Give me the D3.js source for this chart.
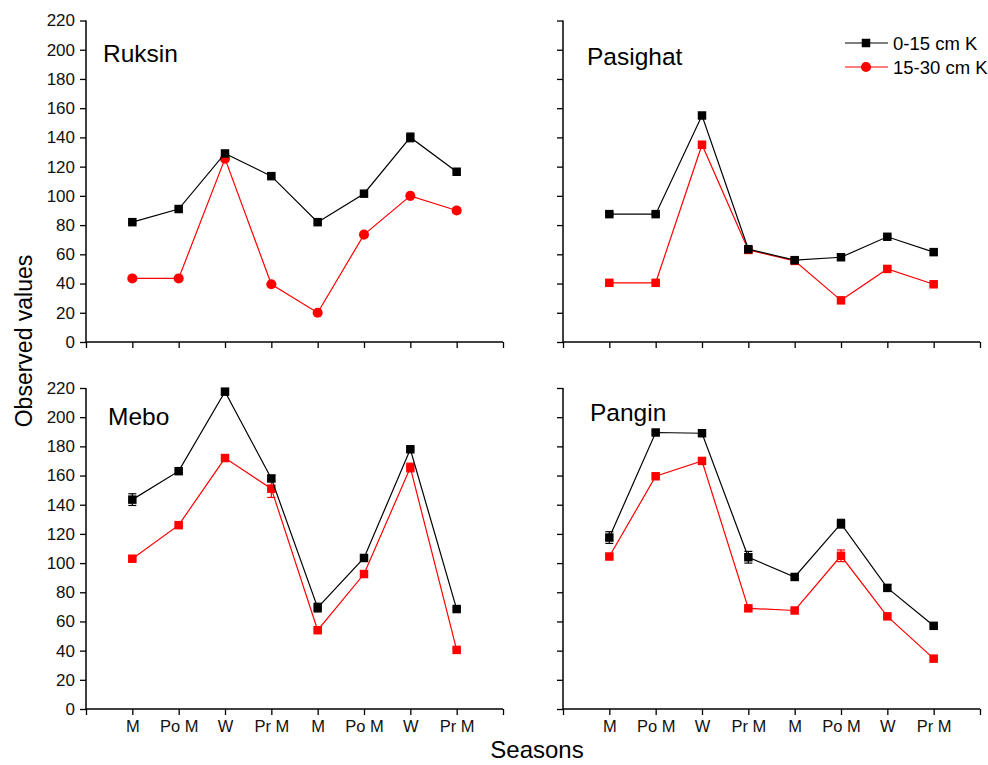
<!DOCTYPE html>
<html>
<head>
<meta charset="utf-8">
<script src="https://cdn.jsdelivr.net/npm/d3@7"></script>
<style>
  body { margin: 0; background: #fff; }
  svg { font-family: "Liberation Sans", Arial, sans-serif; }
</style>
</head>
<body>
<svg id="chart"></svg>
<script>
// seasons along x, sites as panels
const seasons = ["M", "Po M", "W", "Pr M", "M", "Po M", "W", "Pr M"]
const yTicks = [0, 20, 40, 60, 80, 100, 120, 140, 160, 180, 200, 220]
const sites = ["Ruksin", "Pasighat", "Mebo", "Pangin"]
const seriesNames = ["0-15 cm K", "15-30 cm K"]

const ruksin015 = [82, 91, 129, 113.5, 82, 101.5, 140, 116.5]
const ruksin1530 = [43.5, 43.5, 125.5, 39.5, 20, 73.5, 100, 90]
const ruksin015Err = [1, 1, 2, 1, 1, 1, 3, 1]
const ruksin1530Err = [1, 1, 2, 1, 1, 1, 1, 2]

const pasighat015 = [87.5, 87.5, 155, 63.5, 56, 58, 72, 61.5]
const pasighat1530 = [40.5, 40.5, 135, 63, 55.5, 28.5, 50, 39.5]
const pasighat015Err = [1, 1, 1, 1, 1, 1, 1, 1]
const pasighat1530Err = [1, 1, 1, 1, 1, 1, 1, 1]

const mebo015 = [143.5, 163, 217.5, 158, 69.5, 103.5, 178, 68.5]
const mebo1530 = [103, 126, 172, 151, 54, 92.5, 165.5, 40.5]
const mebo015Err = [4, 1, 1, 2, 3, 1, 1, 1]
const mebo1530Err = [1, 1, 1, 6, 1, 1, 3, 1]

const pangin015 = [117.5, 189.5, 189, 104, 90.5, 127, 83, 57]
const pangin1530 = [104.5, 159.5, 170, 69, 67.5, 105, 63.5, 34.5]
const pangin015Err = [4, 1, 1, 4, 1, 3, 2, 1]
const pangin1530Err = [1, 1, 1, 1, 1, 4, 1, 1]

const panelData = [
    {name: sites[0], a: ruksin015, b: ruksin1530, ea: ruksin015Err, eb: ruksin1530Err, redShape: 'circle'},
    {name: sites[1], a: pasighat015, b: pasighat1530, ea: pasighat015Err, eb: pasighat1530Err, redShape: 'square'},
    {name: sites[2], a: mebo015, b: mebo1530, ea: mebo015Err, eb: mebo1530Err, redShape: 'square'},
    {name: sites[3], a: pangin015, b: pangin1530, ea: pangin015Err, eb: pangin1530Err, redShape: 'square'},
]

const width = 988, height = 765
const svg = d3.select('#chart').attr('width', width).attr('height', height)

// panel boxes in pixels, plus where the site name sits
const panels = [
    {left: 86, right: 503, top: 20.5, bottom: 342, tx: 103, ty: 62},
    {left: 563, right: 980, top: 20.5, bottom: 342, tx: 587, ty: 65},
    {left: 86, right: 503, top: 388, bottom: 709, tx: 108, ty: 425},
    {left: 563, right: 980, top: 388, bottom: 709, tx: 590, ty: 421},
]

const symSquare = d3.symbol().type(d3.symbolSquare).size(72)
const symCircle = d3.symbol().type(d3.symbolCircle).size(80)

panels.forEach((p, i) => {
    let d = panelData[i]
    let x = d3.scaleLinear().domain([0, 9]).range([p.left, p.right])
    let y = d3.scaleLinear().domain([0, 220]).range([p.bottom, p.top])
    let g = svg.append('g')

    // y axis
    let yAxis = d3.axisLeft(y).tickValues(yTicks).tickSize(6).tickPadding(5)
    if (i % 2 == 1) yAxis.tickFormat('')
    let ya = g.append('g').attr('transform', `translate(${p.left},0)`).call(yAxis)
    ya.select('.domain').attr('d', `M0,${p.bottom}V${p.top}`)
    ya.selectAll('.tick text').attr('font-size', 17)

    // x axis
    let xAxis = d3.axisBottom(x).tickValues(d3.range(0, 10)).tickSize(6).tickPadding(5)
        .tickFormat(v => (i >= 2 && v >= 1 && v <= 8) ? seasons[v - 1] : '')
    let xa = g.append('g').attr('transform', `translate(0,${p.bottom})`).call(xAxis)
    xa.select('.domain').attr('d', `M${p.left},0H${p.right}`)
    xa.selectAll('.tick text').attr('font-size', 16.5)

    g.selectAll('.domain').attr('stroke', '#000').attr('stroke-width', 1.5)
    g.selectAll('.tick line').attr('stroke', '#000').attr('stroke-width', 1.3)
    g.selectAll('.tick text').attr('fill', '#111')
        .attr('font-family', '"Liberation Sans", Arial, sans-serif')

    // panel title
    g.append('text')
        .attr('x', p.tx)
        .attr('y', p.ty)
        .attr('font-size', 24.5)
        .attr('fill', '#000')
        .text(d.name)

    let series = [
        {vals: d.a, errs: d.ea, color: '#000', shape: 'square'},
        {vals: d.b, errs: d.eb, color: '#ff0000', shape: d.redShape},
    ]

    // draw red first so black sits on top
    series.slice().reverse().forEach(s => {
        let pts = s.vals.map((v, k) => ({x: k + 1, v: v, e: s.errs[k]}))
        g.append('path')
            .datum(pts)
            .attr('fill', 'none')
            .attr('stroke', s.color)
            .attr('stroke-width', 1.2)
            .attr('d', d3.line().x(q => x(q.x)).y(q => y(q.v)))

        let eb = g.append('g').selectAll('g').data(pts).join('g')
        eb.append('line')
            .attr('x1', q => x(q.x)).attr('x2', q => x(q.x))
            .attr('y1', q => y(q.v - q.e)).attr('y2', q => y(q.v + q.e))
            .attr('stroke', s.color).attr('stroke-width', 1.2)
        ;[-1, 1].forEach(sign => {
            eb.append('line')
                .attr('x1', q => x(q.x) - 4).attr('x2', q => x(q.x) + 4)
                .attr('y1', q => y(q.v + sign * q.e)).attr('y2', q => y(q.v + sign * q.e))
                .attr('stroke', s.color).attr('stroke-width', 1.2)
        })

        g.append('g').selectAll('path').data(pts).join('path')
            .attr('transform', q => `translate(${x(q.x)},${y(q.v)})`)
            .attr('d', s.shape == 'circle' ? symCircle() : symSquare())
            .attr('fill', s.color)
    })
})

// legend in the Pasighat panel
const legend = svg.append('g')
const legendRows = [
    {label: seriesNames[0], color: '#000', shape: 'square', y: 43},
    {label: seriesNames[1], color: '#ff0000', shape: 'circle', y: 67},
]
legendRows.forEach(r => {
    legend.append('line').attr('x1', 845).attr('x2', 888).attr('y1', r.y).attr('y2', r.y)
        .attr('stroke', r.color).attr('stroke-width', 1.2)
    legend.append('path').attr('transform', `translate(866,${r.y})`)
        .attr('d', r.shape == 'circle' ? symCircle() : symSquare())
        .attr('fill', r.color)
    legend.append('text').attr('x', 893).attr('y', r.y + 6.5)
        .attr('font-size', 18.5).attr('fill', '#000').text(r.label)
})

// axis titles
svg.append('text')
    .attr('transform', 'translate(32,341) rotate(-90)')
    .attr('text-anchor', 'middle')
    .attr('font-size', 23)
    .text('Observed values')

svg.append('text')
    .attr('x', 537).attr('y', 758)
    .attr('text-anchor', 'middle')
    .attr('font-size', 24)
    .text('Seasons')
</script>
</body>
</html>
